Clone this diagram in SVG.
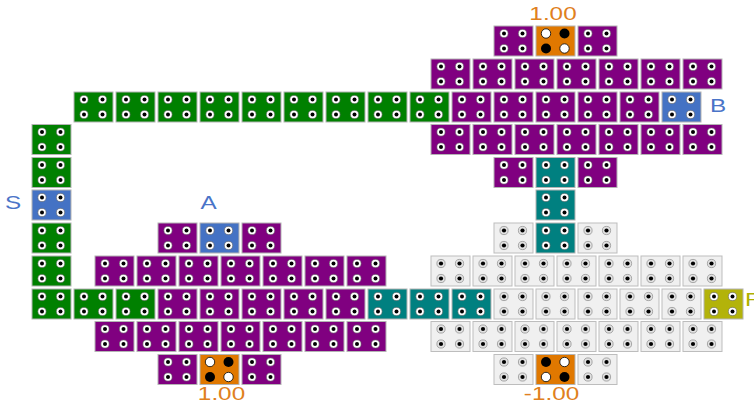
<svg xmlns="http://www.w3.org/2000/svg" xmlns:xlink="http://www.w3.org/1999/xlink" width="754" height="406" viewBox="0 0 754 406">
<style>
.tile{stroke:#b4b4b4;stroke-width:1}
.g{fill:#008000}.p{fill:#800080}.t{fill:#008080}.b{fill:#4472c4}.o{fill:#e07800}.y{fill:#b3b30a}.w{fill:#f0f0f0;stroke:#bdbdbd}
.ring{fill:#fff;stroke:#666;stroke-width:0.6}.hole{fill:#000}
.gring{fill:#e2e2e2;stroke:#8a8a8a;stroke-width:0.7}
.bw{fill:#fff;stroke:#000;stroke-width:0.8}.bk{fill:#000}
.lbl{font-family:"Liberation Sans",Arial,sans-serif;font-size:18px}
.lo{fill:#e08020}.lb{fill:#4a74c8}.ly{fill:#b0b000}
</style>
<defs>
<g id="dots">
<circle class="ring" cx="10" cy="7.5" r="4.1"/><circle class="ring" cx="28.5" cy="7.5" r="4.1"/>
<circle class="ring" cx="10" cy="22.5" r="4.1"/><circle class="ring" cx="28.5" cy="22.5" r="4.1"/>
<circle class="hole" cx="10" cy="7.5" r="2"/><circle class="hole" cx="28.5" cy="7.5" r="2"/>
<circle class="hole" cx="10" cy="22.5" r="2"/><circle class="hole" cx="28.5" cy="22.5" r="2"/>
</g>
<g id="gdots">
<circle class="gring" cx="10" cy="7.5" r="4.1"/><circle class="gring" cx="28.5" cy="7.5" r="4.1"/>
<circle class="gring" cx="10" cy="22.5" r="4.1"/><circle class="gring" cx="28.5" cy="22.5" r="4.1"/>
<circle class="hole" cx="10" cy="7.5" r="2.1"/><circle class="hole" cx="28.5" cy="7.5" r="2.1"/>
<circle class="hole" cx="10" cy="22.5" r="2.1"/><circle class="hole" cx="28.5" cy="22.5" r="2.1"/>
</g>
<g id="oA">
<circle class="bw" cx="10" cy="7.5" r="4.7"/><circle class="bk" cx="28.5" cy="7.5" r="5"/>
<circle class="bk" cx="10" cy="22.5" r="5"/><circle class="bw" cx="28.5" cy="22.5" r="4.7"/>
</g>
<g id="oB">
<circle class="bk" cx="10" cy="7.5" r="5"/><circle class="bw" cx="28.5" cy="7.5" r="4.7"/>
<circle class="bw" cx="10" cy="22.5" r="4.7"/><circle class="bk" cx="28.5" cy="22.5" r="5"/>
</g>
</defs>
<rect width="754" height="406" fill="#fff"/>
<g id="connectors"/>
<g id="nodes">
<!-- row 0 -->
<g id="n0_494" transform="translate(494,26)"><rect class="tile p" width="39" height="30"/><use href="#dots"/></g>
<g id="n0_536" transform="translate(536,26)"><rect class="tile o" width="39" height="30"/><use href="#oA"/></g>
<g id="n0_578" transform="translate(578,26)"><rect class="tile p" width="39" height="30"/><use href="#dots"/></g>
<!-- row 1 -->
<g id="n1_431" transform="translate(431,59)"><rect class="tile p" width="39" height="30"/><use href="#dots"/></g>
<g id="n1_473" transform="translate(473,59)"><rect class="tile p" width="39" height="30"/><use href="#dots"/></g>
<g id="n1_515" transform="translate(515,59)"><rect class="tile p" width="39" height="30"/><use href="#dots"/></g>
<g id="n1_557" transform="translate(557,59)"><rect class="tile p" width="39" height="30"/><use href="#dots"/></g>
<g id="n1_599" transform="translate(599,59)"><rect class="tile p" width="39" height="30"/><use href="#dots"/></g>
<g id="n1_641" transform="translate(641,59)"><rect class="tile p" width="39" height="30"/><use href="#dots"/></g>
<g id="n1_683" transform="translate(683,59)"><rect class="tile p" width="39" height="30"/><use href="#dots"/></g>
<!-- row 2 -->
<g id="n2_74" transform="translate(74,92)"><rect class="tile g" width="39" height="30"/><use href="#dots"/></g>
<g id="n2_116" transform="translate(116,92)"><rect class="tile g" width="39" height="30"/><use href="#dots"/></g>
<g id="n2_158" transform="translate(158,92)"><rect class="tile g" width="39" height="30"/><use href="#dots"/></g>
<g id="n2_200" transform="translate(200,92)"><rect class="tile g" width="39" height="30"/><use href="#dots"/></g>
<g id="n2_242" transform="translate(242,92)"><rect class="tile g" width="39" height="30"/><use href="#dots"/></g>
<g id="n2_284" transform="translate(284,92)"><rect class="tile g" width="39" height="30"/><use href="#dots"/></g>
<g id="n2_326" transform="translate(326,92)"><rect class="tile g" width="39" height="30"/><use href="#dots"/></g>
<g id="n2_368" transform="translate(368,92)"><rect class="tile g" width="39" height="30"/><use href="#dots"/></g>
<g id="n2_410" transform="translate(410,92)"><rect class="tile g" width="39" height="30"/><use href="#dots"/></g>
<g id="n2_452" transform="translate(452,92)"><rect class="tile p" width="39" height="30"/><use href="#dots"/></g>
<g id="n2_494" transform="translate(494,92)"><rect class="tile p" width="39" height="30"/><use href="#dots"/></g>
<g id="n2_536" transform="translate(536,92)"><rect class="tile p" width="39" height="30"/><use href="#dots"/></g>
<g id="n2_578" transform="translate(578,92)"><rect class="tile p" width="39" height="30"/><use href="#dots"/></g>
<g id="n2_620" transform="translate(620,92)"><rect class="tile p" width="39" height="30"/><use href="#dots"/></g>
<g id="nodeB" transform="translate(662,92)"><rect class="tile b" width="39" height="30"/><use href="#dots"/></g>
<!-- row 3 -->
<g id="n3_32" transform="translate(32,124.5)"><rect class="tile g" width="39" height="30"/><use href="#dots"/></g>
<g id="n3_431" transform="translate(431,124.5)"><rect class="tile p" width="39" height="30"/><use href="#dots"/></g>
<g id="n3_473" transform="translate(473,124.5)"><rect class="tile p" width="39" height="30"/><use href="#dots"/></g>
<g id="n3_515" transform="translate(515,124.5)"><rect class="tile p" width="39" height="30"/><use href="#dots"/></g>
<g id="n3_557" transform="translate(557,124.5)"><rect class="tile p" width="39" height="30"/><use href="#dots"/></g>
<g id="n3_599" transform="translate(599,124.5)"><rect class="tile p" width="39" height="30"/><use href="#dots"/></g>
<g id="n3_641" transform="translate(641,124.5)"><rect class="tile p" width="39" height="30"/><use href="#dots"/></g>
<g id="n3_683" transform="translate(683,124.5)"><rect class="tile p" width="39" height="30"/><use href="#dots"/></g>
<!-- row 4 -->
<g id="n4_32" transform="translate(32,157.5)"><rect class="tile g" width="39" height="30"/><use href="#dots"/></g>
<g id="n4_494" transform="translate(494,157.5)"><rect class="tile p" width="39" height="30"/><use href="#dots"/></g>
<g id="n4_536" transform="translate(536,157.5)"><rect class="tile t" width="39" height="30"/><use href="#dots"/></g>
<g id="n4_578" transform="translate(578,157.5)"><rect class="tile p" width="39" height="30"/><use href="#dots"/></g>
<!-- row 5 -->
<g id="nodeS" transform="translate(32,190)"><rect class="tile b" width="39" height="30"/><use href="#dots"/></g>
<g id="n5_536" transform="translate(536,190)"><rect class="tile t" width="39" height="30"/><use href="#dots"/></g>
<!-- row 6 -->
<g id="n6_32" transform="translate(32,223)"><rect class="tile g" width="39" height="30"/><use href="#dots"/></g>
<g id="n6_158" transform="translate(158,223)"><rect class="tile p" width="39" height="30"/><use href="#dots"/></g>
<g id="nodeA" transform="translate(200,223)"><rect class="tile b" width="39" height="30"/><use href="#dots"/></g>
<g id="n6_242" transform="translate(242,223)"><rect class="tile p" width="39" height="30"/><use href="#dots"/></g>
<g id="n6_494" transform="translate(494,223)"><rect class="tile w" width="39" height="30"/><use href="#gdots"/></g>
<g id="n6_536" transform="translate(536,223)"><rect class="tile t" width="39" height="30"/><use href="#dots"/></g>
<g id="n6_578" transform="translate(578,223)"><rect class="tile w" width="39" height="30"/><use href="#gdots"/></g>
<!-- row 7 -->
<g id="n7_32" transform="translate(32,256)"><rect class="tile g" width="39" height="30"/><use href="#dots"/></g>
<g id="n7_95" transform="translate(95,256)"><rect class="tile p" width="39" height="30"/><use href="#dots"/></g>
<g id="n7_137" transform="translate(137,256)"><rect class="tile p" width="39" height="30"/><use href="#dots"/></g>
<g id="n7_179" transform="translate(179,256)"><rect class="tile p" width="39" height="30"/><use href="#dots"/></g>
<g id="n7_221" transform="translate(221,256)"><rect class="tile p" width="39" height="30"/><use href="#dots"/></g>
<g id="n7_263" transform="translate(263,256)"><rect class="tile p" width="39" height="30"/><use href="#dots"/></g>
<g id="n7_305" transform="translate(305,256)"><rect class="tile p" width="39" height="30"/><use href="#dots"/></g>
<g id="n7_347" transform="translate(347,256)"><rect class="tile p" width="39" height="30"/><use href="#dots"/></g>
<g id="n7_431" transform="translate(431,256)"><rect class="tile w" width="39" height="30"/><use href="#gdots"/></g>
<g id="n7_473" transform="translate(473,256)"><rect class="tile w" width="39" height="30"/><use href="#gdots"/></g>
<g id="n7_515" transform="translate(515,256)"><rect class="tile w" width="39" height="30"/><use href="#gdots"/></g>
<g id="n7_557" transform="translate(557,256)"><rect class="tile w" width="39" height="30"/><use href="#gdots"/></g>
<g id="n7_599" transform="translate(599,256)"><rect class="tile w" width="39" height="30"/><use href="#gdots"/></g>
<g id="n7_641" transform="translate(641,256)"><rect class="tile w" width="39" height="30"/><use href="#gdots"/></g>
<g id="n7_683" transform="translate(683,256)"><rect class="tile w" width="39" height="30"/><use href="#gdots"/></g>
<!-- row 8 -->
<g id="n8_32" transform="translate(32,289)"><rect class="tile g" width="39" height="30"/><use href="#dots"/></g>
<g id="n8_74" transform="translate(74,289)"><rect class="tile g" width="39" height="30"/><use href="#dots"/></g>
<g id="n8_116" transform="translate(116,289)"><rect class="tile g" width="39" height="30"/><use href="#dots"/></g>
<g id="n8_158" transform="translate(158,289)"><rect class="tile p" width="39" height="30"/><use href="#dots"/></g>
<g id="n8_200" transform="translate(200,289)"><rect class="tile p" width="39" height="30"/><use href="#dots"/></g>
<g id="n8_242" transform="translate(242,289)"><rect class="tile p" width="39" height="30"/><use href="#dots"/></g>
<g id="n8_284" transform="translate(284,289)"><rect class="tile p" width="39" height="30"/><use href="#dots"/></g>
<g id="n8_326" transform="translate(326,289)"><rect class="tile p" width="39" height="30"/><use href="#dots"/></g>
<g id="n8_368" transform="translate(368,289)"><rect class="tile t" width="39" height="30"/><use href="#dots"/></g>
<g id="n8_410" transform="translate(410,289)"><rect class="tile t" width="39" height="30"/><use href="#dots"/></g>
<g id="n8_452" transform="translate(452,289)"><rect class="tile t" width="39" height="30"/><use href="#dots"/></g>
<g id="n8_494" transform="translate(494,289)"><rect class="tile w" width="39" height="30"/><use href="#gdots"/></g>
<g id="n8_536" transform="translate(536,289)"><rect class="tile w" width="39" height="30"/><use href="#gdots"/></g>
<g id="n8_578" transform="translate(578,289)"><rect class="tile w" width="39" height="30"/><use href="#gdots"/></g>
<g id="n8_620" transform="translate(620,289)"><rect class="tile w" width="39" height="30"/><use href="#gdots"/></g>
<g id="n8_662" transform="translate(662,289)"><rect class="tile w" width="39" height="30"/><use href="#gdots"/></g>
<g id="nodeF" transform="translate(704,289)"><rect class="tile y" width="39" height="30"/><use href="#dots"/></g>
<!-- row 9 -->
<g id="n9_95" transform="translate(95,321.5)"><rect class="tile p" width="39" height="30"/><use href="#dots"/></g>
<g id="n9_137" transform="translate(137,321.5)"><rect class="tile p" width="39" height="30"/><use href="#dots"/></g>
<g id="n9_179" transform="translate(179,321.5)"><rect class="tile p" width="39" height="30"/><use href="#dots"/></g>
<g id="n9_221" transform="translate(221,321.5)"><rect class="tile p" width="39" height="30"/><use href="#dots"/></g>
<g id="n9_263" transform="translate(263,321.5)"><rect class="tile p" width="39" height="30"/><use href="#dots"/></g>
<g id="n9_305" transform="translate(305,321.5)"><rect class="tile p" width="39" height="30"/><use href="#dots"/></g>
<g id="n9_347" transform="translate(347,321.5)"><rect class="tile p" width="39" height="30"/><use href="#dots"/></g>
<g id="n9_431" transform="translate(431,321.5)"><rect class="tile w" width="39" height="30"/><use href="#gdots"/></g>
<g id="n9_473" transform="translate(473,321.5)"><rect class="tile w" width="39" height="30"/><use href="#gdots"/></g>
<g id="n9_515" transform="translate(515,321.5)"><rect class="tile w" width="39" height="30"/><use href="#gdots"/></g>
<g id="n9_557" transform="translate(557,321.5)"><rect class="tile w" width="39" height="30"/><use href="#gdots"/></g>
<g id="n9_599" transform="translate(599,321.5)"><rect class="tile w" width="39" height="30"/><use href="#gdots"/></g>
<g id="n9_641" transform="translate(641,321.5)"><rect class="tile w" width="39" height="30"/><use href="#gdots"/></g>
<g id="n9_683" transform="translate(683,321.5)"><rect class="tile w" width="39" height="30"/><use href="#gdots"/></g>
<!-- row 10 -->
<g id="n10_158" transform="translate(158,354.5)"><rect class="tile p" width="39" height="30"/><use href="#dots"/></g>
<g id="n10_200" transform="translate(200,354.5)"><rect class="tile o" width="39" height="30"/><use href="#oA"/></g>
<g id="n10_242" transform="translate(242,354.5)"><rect class="tile p" width="39" height="30"/><use href="#dots"/></g>
<g id="n10_494" transform="translate(494,354.5)"><rect class="tile w" width="39" height="30"/><use href="#gdots"/></g>
<g id="n10_536" transform="translate(536,354.5)"><rect class="tile o" width="39" height="30"/><use href="#oB"/></g>
<g id="n10_578" transform="translate(578,354.5)"><rect class="tile w" width="39" height="30"/><use href="#gdots"/></g>
</g>
<g id="labels">
<text class="lbl lo" text-anchor="middle" transform="translate(553,19.5) scale(1.35,1)">1.00</text>
<text class="lbl lb" transform="translate(710,111.5) scale(1.35,1)">B</text>
<text class="lbl lb" text-anchor="middle" transform="translate(13,209) scale(1.35,1)">S</text>
<text class="lbl lb" text-anchor="middle" transform="translate(208.5,209) scale(1.35,1)">A</text>
<text class="lbl ly" transform="translate(745,306) scale(1.35,1)">F</text>
<text class="lbl lo" text-anchor="middle" transform="translate(221.5,399.5) scale(1.35,1)">1.00</text>
<text class="lbl lo" text-anchor="middle" transform="translate(551.5,400) scale(1.35,1)">-1.00</text>
</g>
</svg>
